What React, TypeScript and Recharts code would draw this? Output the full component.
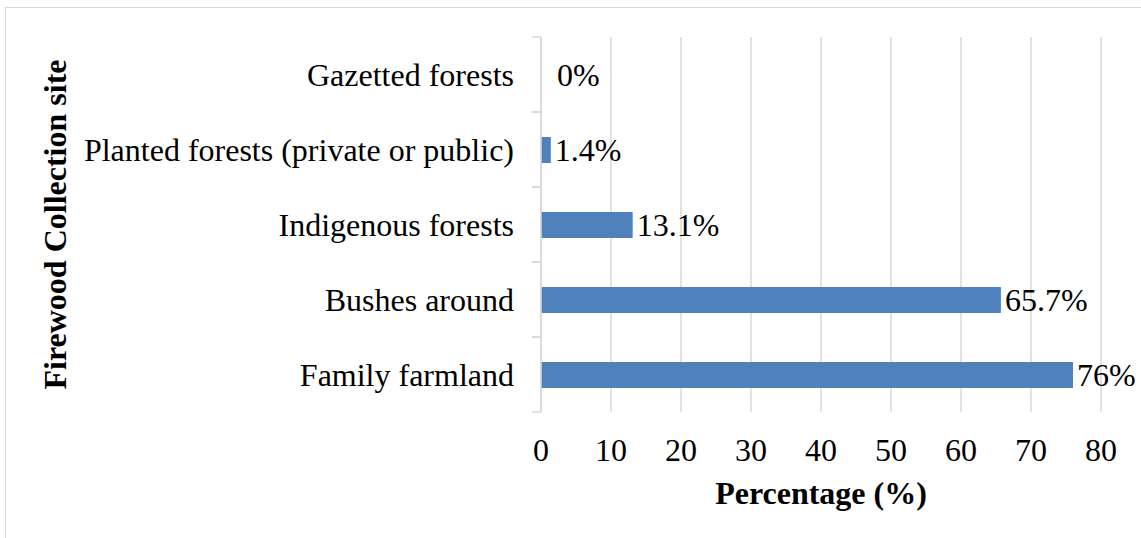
import React from "react";
import {
  BarChart, Bar, XAxis, YAxis, CartesianGrid, LabelList,
} from "recharts";

// Firewood collection sites, top row first
const sites = [
  "Gazetted forests",
  "Planted forests (private or public)",
  "Indigenous forests",
  "Bushes around",
  "Family farmland",
];
const shares = [0, 1.4, 13.1, 65.7, 76];
const xTicks = [0, 10, 20, 30, 40, 50, 60, 70, 80];

const FONT = "'Liberation Serif', 'Times New Roman', serif";
const GRID = "#d9d9d9";
const BAR = "#4f81bd";
const LABEL_GAP = 27; // space between label end and axis line

const data = sites.map((site, i) => ({ site, share: shares[i] }));

// category label plus Excel-style tick marks on the band edges
const SiteTick = (props: any) => {
  const { x, y, payload } = props;
  const half = payload.offset || 0;
  const axisX = x + LABEL_GAP;
  return (
    <g>
      <line x1={axisX - 9} x2={axisX} y1={y - half} y2={y - half} stroke={GRID} strokeWidth={1.5} />
      <line x1={axisX - 9} x2={axisX} y1={y + half} y2={y + half} stroke={GRID} strokeWidth={1.5} />
      <text x={x} y={y} dy="0.355em" textAnchor="end" fontFamily={FONT} fontSize={32} fill="#000">
        {payload.value}
      </text>
    </g>
  );
};

const ValueLabel = (props: any) => {
  const { x, y, width, height, value } = props;
  const gap = width < 1 ? 16 : 4;
  return (
    <text
      x={x + width + gap}
      y={y + height / 2}
      dy="0.355em"
      fontFamily={FONT}
      fontSize={32}
      fill="#000"
    >
      {value}%
    </text>
  );
};

export default function App() {
  return (
    <div style={{
      position: "fixed", left: 0, top: 0, width: 1141, height: 538,
      overflow: "hidden", background: "#fff",
    }}>
      <div style={{
        position: "absolute", left: 5, top: 7, width: 1300, height: 700,
        border: `1.5px solid ${GRID}`,
      }} />
      <div style={{ position: "absolute", left: 0, top: 0 }}>
        <BarChart
          width={1141}
          height={538}
          data={data}
          layout="vertical"
          margin={{ top: 37, right: 40, bottom: 26, left: 8 }}
        >
          <CartesianGrid
            horizontal={false}
            stroke={GRID}
            strokeWidth={1.5}
          />
          <XAxis
            type="number"
            domain={[0, 80]}
            ticks={xTicks}
            axisLine={false}
            tickLine={false}
            tickSize={0}
            tickMargin={26}
            height={100}
            tick={{ fill: "#000", fontSize: 32, fontFamily: FONT }}
            label={{
              value: "Percentage (%)",
              position: "insideBottom",
              offset: 8,
              style: { fill: "#000", fontSize: 32, fontWeight: 700, fontFamily: FONT },
            }}
          />
          <YAxis
            type="category"
            dataKey="site"
            width={533}
            axisLine={{ stroke: GRID, strokeWidth: 1.5 }}
            tickLine={false}
            tickSize={0}
            tickMargin={LABEL_GAP}
            tick={<SiteTick />}
            label={{
              value: "Firewood Collection site",
              angle: -90,
              position: "insideLeft",
              offset: 47,
              style: {
                fill: "#000", fontSize: 32, fontWeight: 700, fontFamily: FONT,
                textAnchor: "middle",
              },
            }}
          />
          <Bar
            dataKey="share"
            fill={BAR}
            barSize={26}
            minPointSize={0.01}
            isAnimationActive={false}
          >
            <LabelList dataKey="share" content={<ValueLabel />} />
          </Bar>
        </BarChart>
      </div>
    </div>
  );
}
